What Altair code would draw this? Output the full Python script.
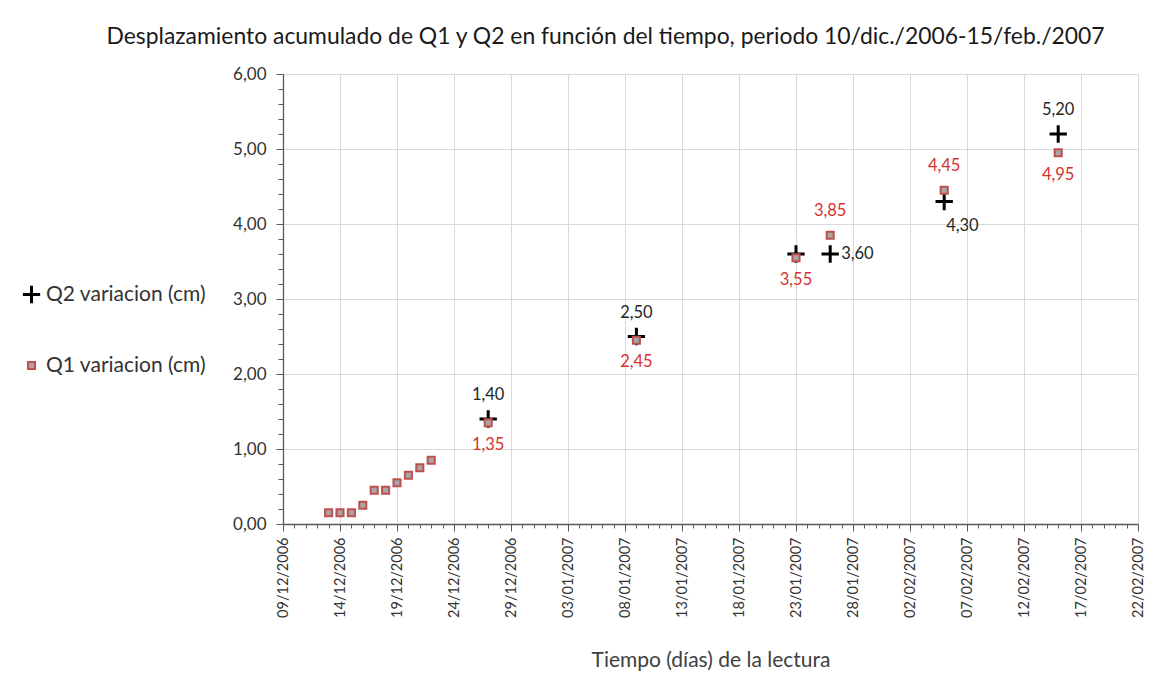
import altair as alt
import pandas as pd
import numpy as np

# ---- data ----
q1_dates = ["2006-12-13", "2006-12-14", "2006-12-15", "2006-12-16", "2006-12-17",
            "2006-12-18", "2006-12-19", "2006-12-20", "2006-12-21", "2006-12-22",
            "2006-12-27", "2007-01-09", "2007-01-23", "2007-01-26", "2007-02-05",
            "2007-02-15"]
q1_values = [0.15, 0.15, 0.15, 0.25, 0.45, 0.45, 0.55, 0.65, 0.75, 0.85,
             1.35, 2.45, 3.55, 3.85, 4.45, 4.95]

q2_dates = ["2006-12-27", "2007-01-09", "2007-01-23", "2007-01-26", "2007-02-05",
            "2007-02-15"]
q2_values = [1.40, 2.50, 3.60, 3.60, 4.30, 5.20]

Q1 = "Q1 variacion (cm)"
Q2 = "Q2 variacion (cm)"

# label placement (which points are labelled, and where)
q1_label_pos = [""] * 10 + ["below", "below", "below", "above", "above", "below"]
q2_label_pos = ["above", "above", "", "right", "belowright", "above"]

def fmt(v):
    return f"{v:.2f}".replace(".", ",")

rows = []
for d, v, p in zip(q2_dates, q2_values, q2_label_pos):
    rows.append({"date": d, "value": v, "series": Q2, "label": fmt(v), "pos": p})
for d, v, p in zip(q1_dates, q1_values, q1_label_pos):
    rows.append({"date": d, "value": v, "series": Q1, "label": fmt(v), "pos": p})
df = pd.DataFrame(rows)

FONT = "Lato"
AXC = "#595959"
RED = "#c0504d"
LRED = "#d7312e"

day_ticks = [int(t.value // 10**6) for t in pd.date_range("2006-12-09", "2007-02-22", freq="D")]
y_ticks = [round(v, 1) for v in np.arange(0, 6.0001, 0.2)]

XMAJ = "round((datum.value - utc(2006, 11, 9)) / 864e5) % 5 == 0"
YMAJ = "abs(datum.value - round(datum.value)) < 0.001"

x_enc = alt.X(
    "date:T",
    scale=alt.Scale(type="utc",
                    domain=[alt.DateTime(year=2006, month=12, date=9, utc=True),
                            alt.DateTime(year=2007, month=2, date=22, utc=True)],
                    nice=False),
    axis=alt.Axis(
        values=day_ticks, tickCount=500,
        labelExpr=f"({XMAJ}) ? utcFormat(datum.value, '%d/%m/%Y') : ''",
        labelAngle=-90, labelOverlap=False, labelFlush=False, labelBound=False,
        labelFont=FONT, labelFontSize=14.5, labelColor="#333333", labelPadding=6,
        tickSize={"condition": {"test": XMAJ, "value": 7}, "value": 4},
        tickColor=AXC, domainColor=AXC, domainWidth=1.3,
        grid=True, gridColor="#d9d9d9",
        gridOpacity={"condition": {"test": XMAJ, "value": 1}, "value": 0},
        title="Tiempo (días) de la lectura", titleFont=FONT, titleFontSize=21,
        titleFontWeight="normal", titleColor="#404040", titlePadding=32,
    ),
)

y_enc = alt.Y(
    "value:Q",
    scale=alt.Scale(domain=[0, 6], nice=False),
    axis=alt.Axis(
        values=y_ticks, tickCount=500,
        labelExpr=f"({YMAJ}) ? replace(format(datum.value, '.2f'), '.', ',') : ''",
        labelOverlap=False,
        labelFont=FONT, labelFontSize=17, labelColor="#333333", labelPadding=10,
        tickSize={"condition": {"test": YMAJ, "value": 7}, "value": 5},
        tickColor=AXC, domainColor=AXC, domainWidth=1.3,
        grid=True, gridColor="#d9d9d9",
        gridOpacity={"condition": {"test": YMAJ, "value": 1}, "value": 0},
        title=None,
    ),
)

cross = "M-1,0L1,0M0,-1L0,1"
dom = [Q2, Q1]
leg = alt.Legend(title=None, orient="none", legendX=-262, legendY=210,
                 labelFont=FONT, labelFontSize=21, labelColor="#333333", labelLimit=0,
                 rowPadding=44, symbolOffset=0, labelOffset=4)

points = alt.Chart(df).mark_point(filled=True, opacity=1).encode(
    x=x_enc,
    y=y_enc,
    shape=alt.Shape("series:N", scale=alt.Scale(domain=dom, range=[cross, "square"]), legend=leg),
    fill=alt.Fill("series:N", scale=alt.Scale(domain=dom, range=["#000000", "#a6a6a6"]), legend=leg),
    stroke=alt.Stroke("series:N", scale=alt.Scale(domain=dom, range=["#000000", RED]), legend=leg),
    size=alt.Size("series:N", scale=alt.Scale(domain=dom, range=[300, 50]), legend=leg),
    strokeWidth=alt.StrokeWidth("series:N", scale=alt.Scale(domain=dom, range=[3, 2]), legend=leg),
)

def labels(pos, dx, dy, align):
    return alt.Chart(df).transform_filter(alt.datum.pos == pos).mark_text(
        font=FONT, fontSize=16.5, dx=dx, dy=dy, align=align, baseline="middle"
    ).encode(
        x=alt.X("date:T"),
        y=alt.Y("value:Q"),
        text="label:N",
        color=alt.Color("series:N", scale=alt.Scale(domain=dom, range=["#262626", LRED]), legend=None),
    )

chart = alt.layer(
    points,
    labels("above", 0, -24, "center"),
    labels("below", 0, 22, "center"),
    labels("right", 11, 0, "left"),
    labels("belowright", 2, 24, "left"),
).properties(
    width=855, height=450,
    padding={"left": 275, "top": 66, "right": 9, "bottom": 155},
    autosize=alt.AutoSizeParams(type="none"),
    title=alt.TitleParams(
        "Desplazamiento acumulado de Q1 y Q2 en función del tiempo, periodo 10/dic./2006-15/feb./2007",
        font=FONT, fontSize=22.9, fontWeight="normal", color="#1a1a1a",
        anchor="middle", frame="group", dx=-105, offset=16,
    ),
).configure_view(stroke=None)

chart.save("out.html", embed_options={"renderer": "svg", "actions": False})
